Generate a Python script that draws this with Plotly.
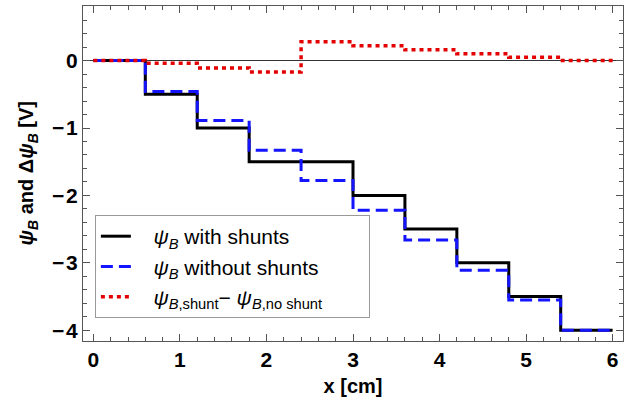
import plotly.graph_objects as go

# step edges along x (cm)
x_edges = [0.0, 0.6, 1.2, 1.8, 2.4, 3.0, 3.6, 4.2, 4.8, 5.4, 6.0]
# value on each segment [x_edges[i], x_edges[i+1]]
psi_with = [0.0, -0.5, -1.0, -1.5, -1.5, -2.0, -2.5, -3.0, -3.5, -4.0]
psi_without = [0.0, -0.46, -0.89, -1.33, -1.78, -2.22, -2.66, -3.11, -3.55, -4.0]
psi_diff = [0.0, -0.04, -0.11, -0.17, 0.28, 0.22, 0.16, 0.10, 0.05, 0.0]

x_ticks = [0, 1, 2, 3, 4, 5, 6]
y_ticks = [-4, -3, -2, -1, 0]
y_ticktext = ["\u2212\u200a4", "\u2212\u200a3", "\u2212\u200a2", "\u2212\u200a1", "0"]

FONT = "Liberation Sans, Arial, Helvetica, sans-serif"
PAD = "\u00a0\u00a0\u00a0"
TAIL = "\u00a0" * 7


def steps(vals):
    return vals + [vals[-1]]


fig = go.Figure()
fig.add_trace(go.Scatter(
    x=x_edges, y=steps(psi_with), mode="lines", line_shape="hv",
    line=dict(color="black", width=3),
    name=PAD + "<i>ψ</i><sub><i>B</i></sub> with shunts"))
fig.add_trace(go.Scatter(
    x=x_edges, y=steps(psi_without), mode="lines", line_shape="hv",
    line=dict(color="rgb(20,20,255)", width=3, dash="12px,6px"),
    name=PAD + "<i>ψ</i><sub><i>B</i></sub> without shunts"))
fig.add_trace(go.Scatter(
    x=x_edges, y=steps(psi_diff), mode="lines", line_shape="hv",
    line=dict(color="rgb(228,0,0)", width=3.5, dash="4px,4px"),
    name=PAD + "<i>ψ</i><sub><i>B</i>,shunt</sub>− <i>ψ</i><sub><i>B</i>,no shunt</sub>" + TAIL))

axis_common = dict(
    showgrid=False, showline=True, linecolor="#555", linewidth=1,
    mirror="allticks", ticks="inside", ticklen=7, tickcolor="#555",
    tickwidth=1,
    tickfont=dict(family=FONT, size=21, color="black", weight="bold"),
    minor=dict(ticks="inside", ticklen=4, tickcolor="#555", dtick=0.2,
               showgrid=False),
)

fig.update_xaxes(
    **axis_common, range=[-0.12, 6.12], tickvals=x_ticks,
    zeroline=False,
    title=dict(text="<b>x [cm]</b>", font=dict(family=FONT, size=20, color="black"),
               standoff=8),
)
fig.update_yaxes(
    **axis_common, range=[-4.16, 0.81], tickvals=y_ticks, ticktext=y_ticktext,
    zeroline=True, zerolinecolor="#333", zerolinewidth=1,
)

fig.add_annotation(
    text="<b><i>ψ</i><sub><i>B</i></sub> and Δ<i>ψ</i><sub><i>B</i></sub> [V]</b>",
    xref="paper", yref="paper", x=-0.102, y=0.5, xanchor="center", yanchor="middle",
    textangle=-90, showarrow=False,
    font=dict(family=FONT, size=20, color="black"),
)

fig.update_layout(
    width=633, height=401,
    margin=dict(l=83, r=10, t=6, b=60),
    paper_bgcolor="white", plot_bgcolor="white",
    font=dict(family=FONT, color="black"),
    legend=dict(
        x=0.022, y=0.376, xanchor="left", yanchor="top",
        bgcolor="white", bordercolor="#999", borderwidth=1,
        font=dict(family=FONT, size=21, color="black"),
        itemwidth=30, tracegroupgap=0,
    ),
)

fig.write_html("out.html")
